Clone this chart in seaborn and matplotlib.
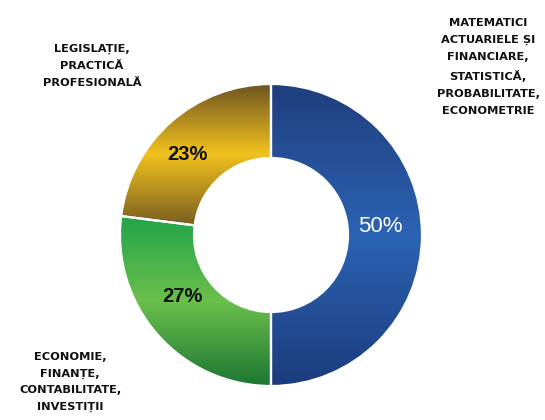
import numpy as np
import matplotlib
matplotlib.use("Agg")
import matplotlib.pyplot as plt
from matplotlib.colors import LinearSegmentedColormap
import seaborn as sns

# slice data (clockwise from 12 o'clock)
shares = [50, 27, 23]
pct_colors = ["white", "#111111", "#111111"]
pct_weights = ["normal", "bold", "bold"]
pct_sizes = [16, 14.5, 14.5]
gradients = [
    ["#1f3e7c", "#2c63b4", "#1b3c7c"],   # blue
    ["#22a449", "#6bbf4b", "#1d7733"],   # green
    ["#6d5321", "#f2c21d", "#7a5e22"],   # gold
]
labels = [
    "MATEMATICI\nACTUARIELE ȘI\nFINANCIARE,\nSTATISTICĂ,\nPROBABILITATE,\nECONOMETRIE",
    "ECONOMIE,\nFINANȚE,\nCONTABILITATE,\nINVESTIȚII",
    "LEGISLAȚIE,\nPRACTICĂ\nPROFESIONALĂ",
]
label_xy = [(488, 67), (70, 382), (92, 66)]
pct_xy = [(380, 227), (182, 297), (187, 155)]

W, H = 545, 420

sns.set_theme(style="white")
plt.rcParams["font.family"] = ["DejaVu Sans"]

fig = plt.figure(figsize=(W / 100, H / 100), dpi=100)
fig.patch.set_facecolor("white")
cx, cy, r = 271, 235, 151
ax = fig.add_axes([(cx - r) / W, (H - cy - r) / H, 2 * r / W, 2 * r / H])

wedges, texts, autotexts = ax.pie(
    shares, startangle=90, counterclock=False, radius=1,
    autopct="%d%%", pctdistance=0.74,
    wedgeprops=dict(width=0.49, facecolor="none", edgecolor="white", linewidth=1.6),
)

for w, cols in zip(wedges, gradients):
    bb = w.get_path().get_extents()
    cmap = LinearSegmentedColormap.from_list("g", cols)
    grad = np.linspace(0, 1, 256).reshape(-1, 1)
    im = ax.imshow(grad, cmap=cmap, origin="upper", aspect="auto",
                   extent=[bb.x0, bb.x1, bb.y0, bb.y1], zorder=0.5)
    im.set_clip_path(w)
    w.set_zorder(1)

for t, c, fw, fs, (px, py) in zip(autotexts, pct_colors, pct_weights, pct_sizes, pct_xy):
    t.set_color(c)
    t.set_fontsize(fs)
    t.set_fontweight(fw)
    t.set_family(["Liberation Sans", "DejaVu Sans"])
    t.set_position(((px - cx) / r, (cy - py) / r))
    t.set_zorder(3)

ax.set_xlim(-1, 1)
ax.set_ylim(-1, 1)
ax.set_aspect("equal")
ax.axis("off")

for txt, (x, y) in zip(labels, label_xy):
    fig.text(x / W, 1 - y / H, txt, ha="center", va="center", fontsize=8.2,
             fontweight="bold", color="#111111", linespacing=1.85)

fig.savefig("out.png", dpi=100)
